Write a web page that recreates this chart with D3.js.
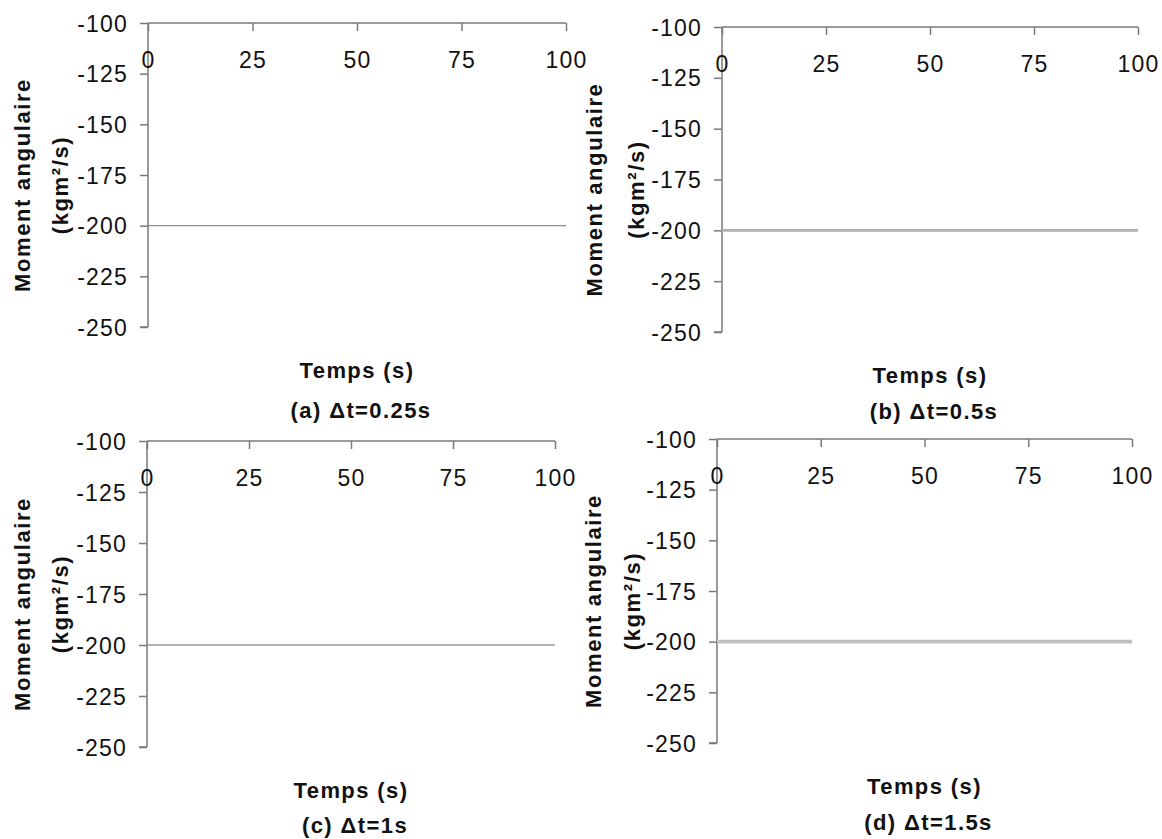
<!DOCTYPE html>
<html>
<head>
<meta charset="utf-8">
<script src="https://cdn.jsdelivr.net/npm/d3@7"></script>
<style>
  html, body { margin: 0; padding: 0; background: #fff; }
  svg { display: block; font-family: "Liberation Sans", Arial, sans-serif; }
</style>
</head>
<body>
<svg id="chart" width="1162" height="839"></svg>
<script>
// ---- data ----
const panelIds = ["a", "b", "c", "d"];
const captions = ["(a) \u0394t=0.25s", "(b) \u0394t=0.5s", "(c) \u0394t=1s", "(d) \u0394t=1.5s"];
const xTicks = [0, 25, 50, 75, 100];
const yTicks = [-100, -125, -150, -175, -200, -225, -250];
const time = [0, 25, 50, 75, 100];
const momentA = [-200, -200, -200, -200, -200];
const momentB = [-200, -200, -200, -200, -200];
const momentC = [-200, -200, -200, -200, -200];
const momentD = [-200, -200, -200, -200, -200];
const seriesList = [momentA, momentB, momentC, momentD];
const xTitle = "Temps (s)";
const yTitle1 = "Moment angulaire";
const yTitle2 = "(kgm\u00B2/s)";

// ---- layout (styles/positions) ----
const layouts = [
  { x0: 148, x1: 566,  y0: 23,  y1: 327, lw: 1.2, lc: "#8a8a8a", t1x: 22,  t2x: 60,  capDy: 91 },
  { x0: 722, x1: 1138, y0: 27,  y1: 332, lw: 2.6, lc: "#b0b0b0", t1x: 594, t2x: 636, capDy: 87 },
  { x0: 147, x1: 555,  y0: 441, y1: 747, lw: 1.6, lc: "#9a9a9a", t1x: 22,  t2x: 60,  capDy: 86 },
  { x0: 717, x1: 1132, y0: 439, y1: 743, lw: 3.6, lc: "#c0c0c0", t1x: 593, t2x: 632, capDy: 87 }
];

const svg = d3.select("#chart");
const axisColor = "#7a7a7a";
const fmt = d => String(d);

layouts.forEach((L, i) => {
  const g = svg.append("g").attr("class", "panel-" + panelIds[i]);
  const x = d3.scaleLinear().domain([0, 100]).range([L.x0, L.x1]);
  const y = d3.scaleLinear().domain([-100, -250]).range([L.y0, L.y1]);

  const yAxis = g.append("g")
    .attr("transform", `translate(${L.x0},0)`)
    .call(d3.axisLeft(y).tickValues(yTicks).tickSize(8).tickPadding(12).tickFormat(fmt));
  const xAxis = g.append("g")
    .attr("transform", `translate(0,${L.y0})`)
    .call(d3.axisBottom(x).tickValues(xTicks).tickSize(8).tickPadding(0).tickFormat(fmt));

  [yAxis, xAxis].forEach(ax => {
    ax.select(".domain").attr("stroke", axisColor).attr("stroke-width", 1.5);
    ax.selectAll(".tick line").attr("stroke", axisColor).attr("stroke-width", 1.5);
    ax.selectAll(".tick text")
      .attr("fill", "#111")
      .style("font-size", "23px")
      .style("letter-spacing", "1.2px");
  });
  xAxis.select(".domain").attr("d", `M${L.x0},0H${L.x1}`);
  xAxis.selectAll(".tick text").attr("y", 45).attr("dy", null);
  yAxis.select(".domain").attr("d", `M0,${L.y0}V${L.y1}M-8,${L.y1}H0`);
  yAxis.selectAll(".tick text").attr("dy", "0.35em");

  const line = d3.line().x((d, k) => x(time[k])).y(d => y(d));
  g.append("path")
    .datum(seriesList[i])
    .attr("d", line)
    .attr("fill", "none")
    .attr("stroke", L.lc)
    .attr("stroke-width", L.lw);

  const cx = (L.x0 + L.x1) / 2;
  g.append("text")
    .attr("x", cx).attr("y", L.y1 + 51)
    .attr("text-anchor", "middle")
    .style("font-size", "22px").style("font-weight", "bold").style("letter-spacing", "1.4px")
    .attr("fill", "#111")
    .text(xTitle);
  g.append("text")
    .attr("x", cx + 4).attr("y", L.y1 + L.capDy)
    .attr("text-anchor", "middle")
    .style("font-size", "22px").style("font-weight", "bold").style("letter-spacing", "1.4px")
    .attr("fill", "#111")
    .text(captions[i]);

  const cy = (L.y0 + L.y1) / 2 + 10;
  [[yTitle1, L.t1x], [yTitle2, L.t2x]].forEach(([txt, tx]) => {
    g.append("text")
      .attr("transform", `translate(${tx},${cy}) rotate(-90)`)
      .attr("text-anchor", "middle")
      .attr("dy", "0.35em")
      .style("font-size", "22px").style("font-weight", "bold").style("letter-spacing", "1.6px")
      .attr("fill", "#111")
      .text(txt);
  });
});
</script>
</body>
</html>
